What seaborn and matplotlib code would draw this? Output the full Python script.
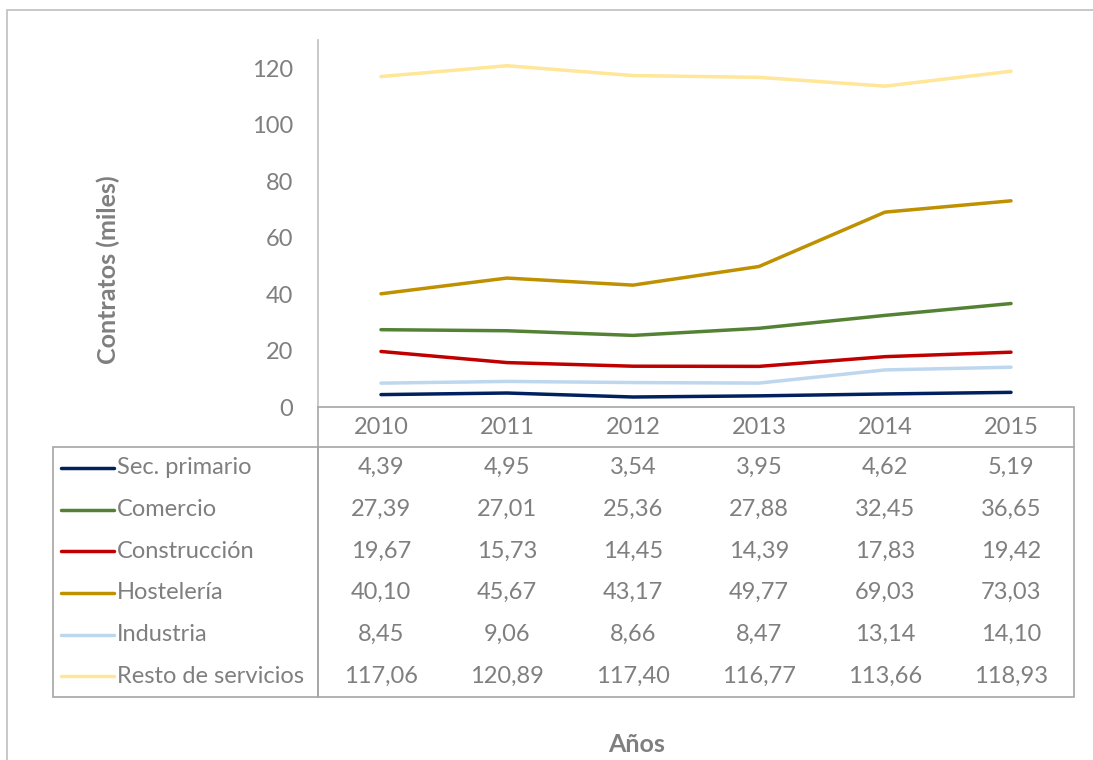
import matplotlib
matplotlib.use("Agg")
import matplotlib.pyplot as plt
import matplotlib.patches as mpatches
import matplotlib.lines as mlines
import seaborn as sns
import pandas as pd

years = ["2010", "2011", "2012", "2013", "2014", "2015"]
sectors = ["Sec. primario", "Comercio", "Construcción", "Hostelería", "Industria", "Resto de servicios"]
sec_primario = [4.39, 4.95, 3.54, 3.95, 4.62, 5.19]
comercio = [27.39, 27.01, 25.36, 27.88, 32.45, 36.65]
construccion = [19.67, 15.73, 14.45, 14.39, 17.83, 19.42]
hosteleria = [40.10, 45.67, 43.17, 49.77, 69.03, 73.03]
industria = [8.45, 9.06, 8.66, 8.47, 13.14, 14.10]
resto_servicios = [117.06, 120.89, 117.40, 116.77, 113.66, 118.93]
yticks = [0, 20, 40, 60, 80, 100, 120]
colors = ["#002060", "#548235", "#C00000", "#BF9000", "#BDD7EE", "#FFE699"]

series = [sec_primario, comercio, construccion, hosteleria, industria, resto_servicios]
rows = []
for name, vals in zip(sectors, series):
    for i, (y, v) in enumerate(zip(years, vals)):
        rows.append({"sector": name, "pos": i, "year": y, "value": v})
df = pd.DataFrame(rows)

sns.set_theme(style="white")
plt.rcParams["font.family"] = ["Lato", "DejaVu Sans"]

W, H = 1093, 760
fig = plt.figure(figsize=(W / 100, H / 100), dpi=100)
TXT = "#7F7F7F"
FS = 17

def fx(px):
    return px / W

def fy(py):
    return 1 - py / H

# outer chart border (left/top visible)
fig.patches.append(mpatches.Rectangle((fx(7), fy(780)), fx(1100) - fx(7), fy(10) - fy(780),
                                      transform=fig.transFigure, fill=False,
                                      edgecolor="#BFBFBF", linewidth=1.2))

x0, x1 = 318, 1074
ax = fig.add_axes([fx(x0), fy(407), fx(x1) - fx(x0), fy(40) - fy(407)])
sns.lineplot(data=df, x="pos", y="value", hue="sector", hue_order=sectors,
             palette=colors, linewidth=2.5, legend=False, ax=ax, sort=False)
ax.set_xlim(-0.5, 5.5)
ax.set_ylim(0, 130)
ax.set_yticks(yticks)
ax.set_yticklabels([str(t) for t in yticks], fontsize=FS, color=TXT)
ax.tick_params(axis="y", length=0, pad=18)
ax.set_xticks([])
ax.set_xlabel("")
ax.set_ylabel("")
for s in ["top", "right", "bottom"]:
    ax.spines[s].set_visible(False)
ax.spines["left"].set_color("#BFBFBF")
ax.spines["left"].set_linewidth(1.2)
ax.set_facecolor("none")

fig.text(fx(108), fy(270), "Contratos (miles)", rotation=90, ha="center", va="center",
         fontsize=18, fontweight="bold", color=TXT)
fig.text(fx(637), fy(745), "Años", ha="center", va="center",
         fontsize=18, fontweight="bold", color=TXT)

# data table
tab = fig.add_axes([fx(x0), fy(697), fx(x1) - fx(x0), fy(407) - fy(697)])
tab.set_xlim(-0.5, 5.5)
tab.set_ylim(290, 0)
tab.axis("off")
border = "#A6A6A6"
hdr_h = 40
row_h = 250 / 6
tab.add_patch(mpatches.Rectangle((-0.5, 0), 6, 290, fill=False, edgecolor=border, linewidth=1.2, clip_on=False))
tab.add_line(mlines.Line2D([-0.5, 5.5], [hdr_h, hdr_h], color=border, linewidth=1.2, clip_on=False))
colw = (x1 - x0) / 6
left_data = -0.5 - (x0 - 53) / colw
tab.add_patch(mpatches.Rectangle((left_data, hdr_h), -0.5 - left_data, 250, fill=False,
                                 edgecolor=border, linewidth=1.2, clip_on=False))
for i, y in enumerate(years):
    tab.text(i, hdr_h / 2, y, ha="center", va="center", fontsize=FS, color=TXT)
leg_x0 = left_data + 8 / colw
leg_x1 = left_data + 61 / colw
for r, (name, vals, c) in enumerate(zip(sectors, series, colors)):
    yc = hdr_h + row_h * (r + 0.5)
    tab.add_line(mlines.Line2D([leg_x0, leg_x1], [yc, yc], color=c, linewidth=2.5,
                               solid_capstyle="round", clip_on=False))
    tab.text(leg_x1 + 3 / colw, yc, name, ha="left", va="center", fontsize=FS, color=TXT, clip_on=False)
    for i, v in enumerate(vals):
        tab.text(i, yc, f"{v:.2f}".replace(".", ","), ha="center", va="center", fontsize=FS, color=TXT)

fig.savefig("out.png", dpi=100, facecolor="white")
